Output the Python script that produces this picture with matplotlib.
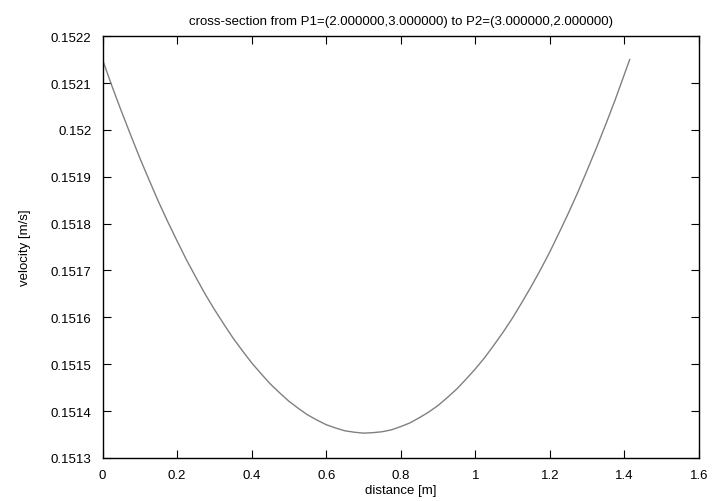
import matplotlib
matplotlib.use('Agg')
import matplotlib.pyplot as plt
from matplotlib.ticker import FuncFormatter

# velocity profile along the cross-section
distance = [0.000, 0.025, 0.050, 0.075, 0.100, 0.125, 0.150, 0.175, 0.200, 0.225,
            0.250, 0.275, 0.300, 0.325, 0.350, 0.375, 0.400, 0.425, 0.450, 0.475,
            0.500, 0.525, 0.550, 0.575, 0.600, 0.625, 0.650, 0.675, 0.700, 0.725,
            0.750, 0.775, 0.800, 0.825, 0.850, 0.875, 0.900, 0.925, 0.950, 0.975,
            1.000, 1.025, 1.050, 1.075, 1.100, 1.125, 1.150, 1.175, 1.200, 1.225,
            1.250, 1.275, 1.300, 1.325, 1.350, 1.375, 1.400, 1.414]
velocity = [0.152150, 0.152094, 0.152041, 0.151990, 0.151940, 0.151893, 0.151847, 0.151804,
            0.151763, 0.151723, 0.151686, 0.151650, 0.151617, 0.151586, 0.151556, 0.151529,
            0.151503, 0.151480, 0.151458, 0.151439, 0.151421, 0.151406, 0.151392, 0.151381,
            0.151371, 0.151364, 0.151358, 0.151355, 0.151353, 0.151354, 0.151356, 0.151360,
            0.151367, 0.151375, 0.151386, 0.151398, 0.151412, 0.151429, 0.151447, 0.151468,
            0.151490, 0.151514, 0.151541, 0.151569, 0.151599, 0.151632, 0.151666, 0.151702,
            0.151740, 0.151781, 0.151823, 0.151867, 0.151914, 0.151962, 0.152012, 0.152064,
            0.152119, 0.152150]

x_ticks = [0, 0.2, 0.4, 0.6, 0.8, 1.0, 1.2, 1.4, 1.6]
y_ticks = [0.1513, 0.1514, 0.1515, 0.1516, 0.1517, 0.1518, 0.1519, 0.1520, 0.1521, 0.1522]

plt.rcParams['font.family'] = ['Liberation Sans', 'DejaVu Sans']

fig = plt.figure(figsize=(7.14, 5.02), dpi=100)
ax = fig.add_axes([0.1436, 0.0857, 0.9790 - 0.1436, 0.926 - 0.0857])

ax.plot(distance, velocity, color='#808080', linewidth=1.0)

ax.set_xlim(0, 1.6)
ax.set_ylim(0.1513, 0.1522)
ax.set_xticks(x_ticks)
ax.set_yticks(y_ticks)
ax.xaxis.set_major_formatter(FuncFormatter(lambda v, p: '%g' % round(v, 4)))
ax.yaxis.set_major_formatter(FuncFormatter(lambda v, p: '%g' % round(v, 6)))

ax.tick_params(direction='in', length=6, width=0.8, labelsize=9.5,
               top=True, right=True, pad=8, colors='black')
for s in ax.spines.values():
    s.set_linewidth(1.0)
    s.set_color('black')

ax.set_xlabel('distance [m]', fontsize=9.5, labelpad=2)
ax.set_ylabel('velocity [m/s]', fontsize=9.5, labelpad=14)
ax.set_title('cross-section from P1=(2.000000,3.000000) to P2=(3.000000,2.000000)',
             fontsize=9.5, pad=9)

fig.savefig('out.png', dpi=100)
